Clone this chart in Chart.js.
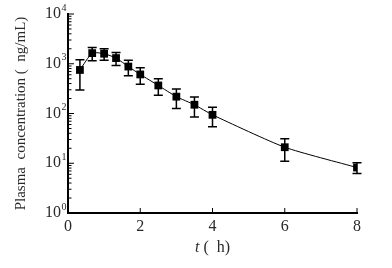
<!DOCTYPE html>
<html>
<head>
<meta charset="utf-8">
<script src="https://cdn.jsdelivr.net/npm/chart.js@4/dist/chart.umd.min.js"></script>
<style>
  html, body { margin: 0; padding: 0; background: #fff; }
  #wrap { width: 392px; height: 268px; }
</style>
</head>
<body>
<div id="wrap"><canvas id="pk-curve" width="392" height="268"></canvas></div>
<script>
/* sampling times (h) */
var times = [0.33, 0.67, 1, 1.33, 1.67, 2, 2.5, 3, 3.5, 4, 6, 8];
/* mean plasma concentration (ng/mL) */
var meanConc = [750, 1635, 1590, 1300, 878, 610, 366, 218, 150, 94, 21, 8.2];
/* standard deviation (ng/mL) */
var sdConc = [453, 485, 415, 378, 303, 225, 134, 92, 65, 40, 10, 2];
/* axis ticks */
var xTicks = [0, 2, 4, 6, 8];
var yTickExps = [0, 1, 2, 3, 4];

var serif = "'Liberation Serif', 'DejaVu Serif', serif";
var textColor = "#2a2a2a";

var points = times.map(function (t, i) {
    return { x: t, y: meanConc[i] };
});

/* error bars, inward ticks, superscript labels, x title */
var extras = {
    id: "extras",
    afterDatasetsDraw: function (chart) {
        var ctx = chart.ctx;
        var xs = chart.scales.x;
        var ys = chart.scales.y;
        ctx.save();
        ctx.strokeStyle = "#000";
        ctx.lineWidth = 1.5;
        for (var i = 0; i < times.length; i++) {
            var px = xs.getPixelForValue(times[i]);
            var top = ys.getPixelForValue(meanConc[i] + sdConc[i]);
            var bot = ys.getPixelForValue(Math.max(meanConc[i] - sdConc[i], 1));
            ctx.beginPath();
            ctx.moveTo(px, top); ctx.lineTo(px, bot);
            ctx.moveTo(px - 4.5, top); ctx.lineTo(px + 4.5, top);
            ctx.moveTo(px - 4.5, bot); ctx.lineTo(px + 4.5, bot);
            ctx.stroke();
        }
        ctx.restore();
    },
    afterDraw: function (chart) {
        var ctx = chart.ctx;
        var xs = chart.scales.x;
        var ys = chart.scales.y;
        var area = chart.chartArea;
        ctx.save();
        ctx.strokeStyle = "#000";
        ctx.lineWidth = 1;

        // y ticks (inside)
        yTickExps.forEach(function (e) {
            var base = Math.pow(10, e);
            var py = ys.getPixelForValue(base);
            ctx.beginPath();
            ctx.moveTo(area.left, py); ctx.lineTo(area.left + 6, py);
            ctx.stroke();
            if (e < yTickExps[yTickExps.length - 1]) {
                for (var k = 2; k <= 9; k++) {
                    var my = ys.getPixelForValue(base * k);
                    ctx.beginPath();
                    ctx.moveTo(area.left, my); ctx.lineTo(area.left + 3.5, my);
                    ctx.stroke();
                }
            }
            ctx.fillStyle = textColor;
            ctx.font = "16px " + serif;
            ctx.textAlign = "right";
            ctx.textBaseline = "middle";
            ctx.fillText("10", area.left - 7, py);
            ctx.font = "10px " + serif;
            ctx.textAlign = "left";
            ctx.fillText(String(e), area.left - 6.5, py - 6);
        });

        // x ticks (inside)
        xTicks.forEach(function (v) {
            if (v === 0) return;
            var px = xs.getPixelForValue(v);
            ctx.beginPath();
            ctx.moveTo(px, area.bottom); ctx.lineTo(px, area.bottom - 5);
            ctx.stroke();
        });

        // x title: italic t + ( h)
        var cx = (area.left + area.right) / 2;
        var ty = 248;
        ctx.fillStyle = textColor;
        ctx.textBaseline = "middle";
        ctx.font = "italic 16px " + serif;
        var w1 = ctx.measureText("t").width;
        ctx.font = "16px " + serif;
        var w2 = ctx.measureText(" (  h)").width;
        var start = cx - (w1 + w2) / 2;
        ctx.textAlign = "left";
        ctx.font = "italic 16px " + serif;
        ctx.fillText("t", start, ty);
        ctx.font = "16px " + serif;
        ctx.fillText(" (  h)", start + w1, ty);
        ctx.restore();
    }
};

var config =
{
    type: "line",
    data:
    {
        datasets: [
            {
                label: "Plasma concentration",
                data: points,
                borderColor: "#000",
                borderWidth: 1,
                backgroundColor: "#000",
                pointStyle: "rect",
                pointRadius: 5.5,
                pointBorderWidth: 0,
                tension: 0.2,
                fill: false,
            },
        ],
    },
    options:
    {
        responsive: false,
        animation: false,
        layout: { padding: { top: 14, right: 35, left: 0, bottom: 0 } },
        plugins: {
            legend: { display: false },
            tooltip: { enabled: false },
        },
        scales: {
            x: {
                type: "linear",
                min: 0,
                max: 8,
                ticks: {
                    stepSize: 2,
                    color: textColor,
                    padding: 4,
                    font: { family: serif, size: 16 },
                },
                grid: { display: false, drawTicks: false },
                border: { color: "#000", width: 2 },
                afterFit: function (scale) { scale.height = 55; },
            },
            y: {
                type: "logarithmic",
                min: 1,
                max: 10000,
                ticks: { display: false },
                grid: { display: false, drawTicks: false },
                border: { color: "#000", width: 2 },
                title: {
                    display: true,
                    text: "Plasma  concentration (  ng/mL)",
                    color: textColor,
                    font: { family: serif, size: 15 },
                    padding: { top: 12, bottom: 0 },
                },
                afterFit: function (scale) { scale.width = 68; },
            },
        },
    },
    plugins: [extras],
};

var chart = new Chart(document.getElementById("pk-curve"), config);
</script>
</body>
</html>
